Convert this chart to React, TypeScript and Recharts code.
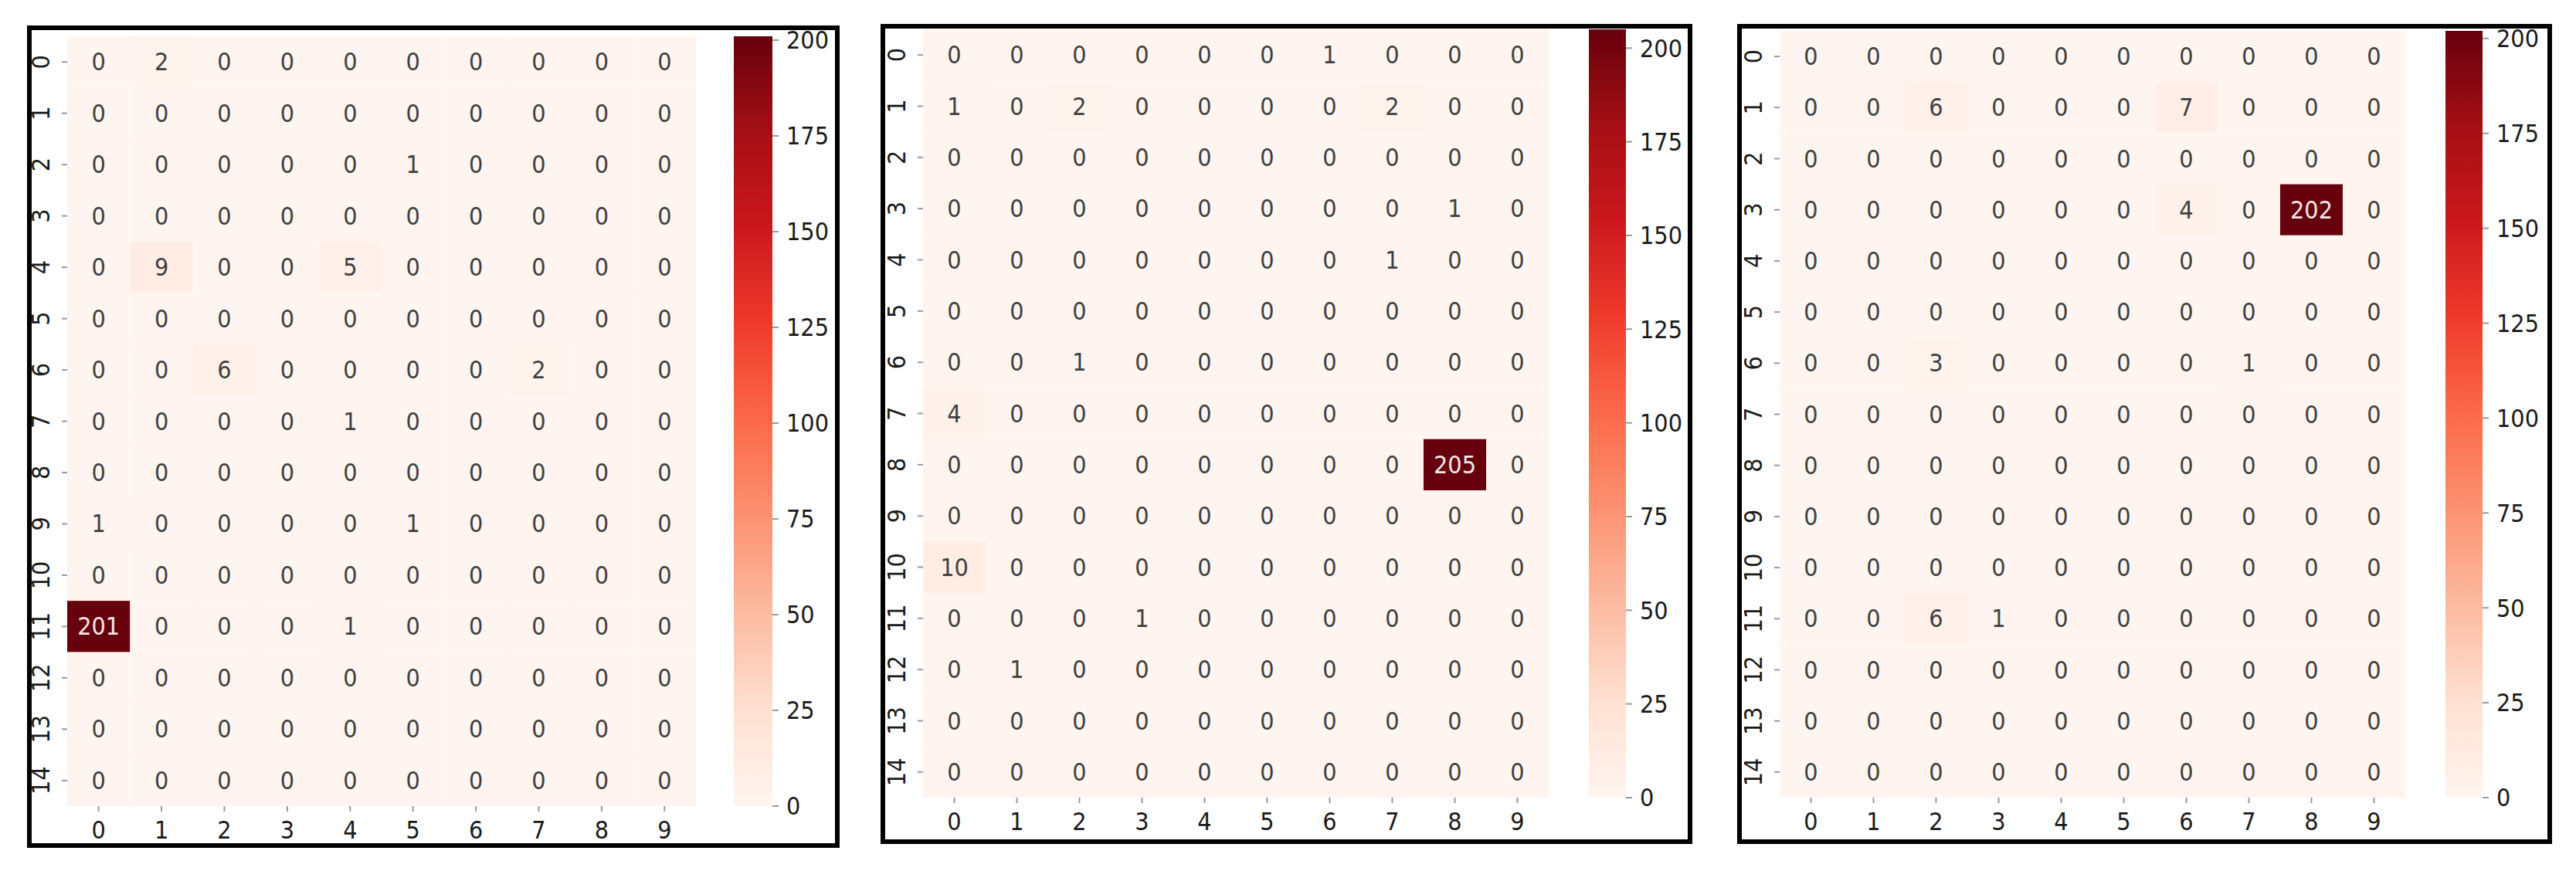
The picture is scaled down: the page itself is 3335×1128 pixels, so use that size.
import React from 'react';
import { ScatterChart, Scatter, XAxis, YAxis, BarChart, Bar } from 'recharts';

const FONT = '"DejaVu Sans Condensed", "DejaVu Sans", sans-serif';

// tick labels
const colLabels = [0, 1, 2, 3, 4, 5, 6, 7, 8, 9];
const rowLabels = [0, 1, 2, 3, 4, 5, 6, 7, 8, 9, 10, 11, 12, 13, 14];
const barTicks = [0, 25, 50, 75, 100, 125, 150, 175, 200];

// confusion counts, one row per row label
const countsLeft = [
  [0, 2, 0, 0, 0, 0, 0, 0, 0, 0],
  [0, 0, 0, 0, 0, 0, 0, 0, 0, 0],
  [0, 0, 0, 0, 0, 1, 0, 0, 0, 0],
  [0, 0, 0, 0, 0, 0, 0, 0, 0, 0],
  [0, 9, 0, 0, 5, 0, 0, 0, 0, 0],
  [0, 0, 0, 0, 0, 0, 0, 0, 0, 0],
  [0, 0, 6, 0, 0, 0, 0, 2, 0, 0],
  [0, 0, 0, 0, 1, 0, 0, 0, 0, 0],
  [0, 0, 0, 0, 0, 0, 0, 0, 0, 0],
  [1, 0, 0, 0, 0, 1, 0, 0, 0, 0],
  [0, 0, 0, 0, 0, 0, 0, 0, 0, 0],
  [201, 0, 0, 0, 1, 0, 0, 0, 0, 0],
  [0, 0, 0, 0, 0, 0, 0, 0, 0, 0],
  [0, 0, 0, 0, 0, 0, 0, 0, 0, 0],
  [0, 0, 0, 0, 0, 0, 0, 0, 0, 0],
];

const countsMiddle = [
  [0, 0, 0, 0, 0, 0, 1, 0, 0, 0],
  [1, 0, 2, 0, 0, 0, 0, 2, 0, 0],
  [0, 0, 0, 0, 0, 0, 0, 0, 0, 0],
  [0, 0, 0, 0, 0, 0, 0, 0, 1, 0],
  [0, 0, 0, 0, 0, 0, 0, 1, 0, 0],
  [0, 0, 0, 0, 0, 0, 0, 0, 0, 0],
  [0, 0, 1, 0, 0, 0, 0, 0, 0, 0],
  [4, 0, 0, 0, 0, 0, 0, 0, 0, 0],
  [0, 0, 0, 0, 0, 0, 0, 0, 205, 0],
  [0, 0, 0, 0, 0, 0, 0, 0, 0, 0],
  [10, 0, 0, 0, 0, 0, 0, 0, 0, 0],
  [0, 0, 0, 1, 0, 0, 0, 0, 0, 0],
  [0, 1, 0, 0, 0, 0, 0, 0, 0, 0],
  [0, 0, 0, 0, 0, 0, 0, 0, 0, 0],
  [0, 0, 0, 0, 0, 0, 0, 0, 0, 0],
];

const countsRight = [
  [0, 0, 0, 0, 0, 0, 0, 0, 0, 0],
  [0, 0, 6, 0, 0, 0, 7, 0, 0, 0],
  [0, 0, 0, 0, 0, 0, 0, 0, 0, 0],
  [0, 0, 0, 0, 0, 0, 4, 0, 202, 0],
  [0, 0, 0, 0, 0, 0, 0, 0, 0, 0],
  [0, 0, 0, 0, 0, 0, 0, 0, 0, 0],
  [0, 0, 3, 0, 0, 0, 0, 1, 0, 0],
  [0, 0, 0, 0, 0, 0, 0, 0, 0, 0],
  [0, 0, 0, 0, 0, 0, 0, 0, 0, 0],
  [0, 0, 0, 0, 0, 0, 0, 0, 0, 0],
  [0, 0, 0, 0, 0, 0, 0, 0, 0, 0],
  [0, 0, 6, 1, 0, 0, 0, 0, 0, 0],
  [0, 0, 0, 0, 0, 0, 0, 0, 0, 0],
  [0, 0, 0, 0, 0, 0, 0, 0, 0, 0],
  [0, 0, 0, 0, 0, 0, 0, 0, 0, 0],
];

// matplotlib "Reds"
const redsStops = ['#fff5f0', '#fee0d2', '#fcbba1', '#fc9272', '#fb6a4a', '#ef3b2c', '#cb181d', '#a50f15', '#67000d'];

const hexRgb = (h: string) => [1, 3, 5].map((i) => parseInt(h.slice(i, i + 2), 16));
const reds = (t: number) => {
  const p = Math.max(0, Math.min(1, t)) * (redsStops.length - 1);
  const i = Math.min(redsStops.length - 2, Math.floor(p));
  const f = p - i;
  const a = hexRgb(redsStops[i]);
  const b = hexRgb(redsStops[i + 1]);
  const c = a.map((v, k) => Math.round(v + (b[k] - v) * f));
  return `rgb(${c[0]},${c[1]},${c[2]})`;
};

const panels = [
  { id: 'l', counts: countsLeft, frame: { left: 35, top: 33, width: 1052, height: 1065 }, heat: { left: 87, top: 47, width: 814, height: 997 }, bar: { left: 950, width: 50 } },
  { id: 'm', counts: countsMiddle, frame: { left: 1140, top: 31, width: 1051, height: 1062 }, heat: { left: 1195, top: 38, width: 810, height: 995 }, bar: { left: 2057, width: 48 } },
  { id: 'r', counts: countsRight, frame: { left: 2249, top: 31, width: 1055, height: 1062 }, heat: { left: 2304, top: 40, width: 810, height: 993 }, bar: { left: 3166, width: 48 } },
];

const Y_AXIS_W = 60;
const X_AXIS_H = 60;
const PAD = 20;
const FS = 32;
const tickStroke = { stroke: '#9a9a9a', strokeWidth: 2 };

const RowTick = (props: any) => {
  const { x, y, payload } = props;
  return (
    <text x={x} y={y} transform={`rotate(-90 ${x} ${y})`} textAnchor="middle" dominantBaseline="central"
      fontSize={FS} fill="#1a1a1a" fontFamily={FONT}>
      {payload.value}
    </text>
  );
};

const Heatmap = ({ counts, vmax, box }: any) => {
  const cells = counts.flatMap((row: number[], r: number) => row.map((v, c) => ({ x: c, y: r, v })));
  const cw = box.width / colLabels.length;
  const ch = box.height / rowLabels.length;

  const drawCell = (p: any) => {
    const { cx, cy, payload } = p;
    const t = payload.v / vmax;
    return (
      <g>
        <rect x={cx - cw / 2} y={cy - ch / 2} width={cw} height={ch} fill={reds(t)} />
        <text x={cx} y={cy} textAnchor="middle" dominantBaseline="central" fontSize={FS}
          fontFamily={FONT} fill={t > 0.5 ? '#f6e6e6' : '#404040'}>
          {payload.v}
        </text>
      </g>
    );
  };

  return (
    <div style={{ position: 'absolute', left: box.left - Y_AXIS_W, top: box.top - PAD }}>
      <ScatterChart
        width={box.width + Y_AXIS_W + 10}
        height={box.height + PAD + X_AXIS_H}
        margin={{ top: PAD, right: 10, bottom: 0, left: 0 }}
      >
        <XAxis type="number" dataKey="x" domain={[-0.5, 9.5]} ticks={colLabels} interval={0}
          allowDataOverflow axisLine={false} tickLine={tickStroke} tickSize={7} tickMargin={12}
          height={X_AXIS_H} tick={{ fontSize: FS, fill: '#1a1a1a', fontFamily: FONT }} />
        <YAxis type="number" dataKey="y" domain={[-0.5, 14.5]} reversed ticks={rowLabels} interval={0}
          allowDataOverflow axisLine={false} tickLine={tickStroke} tickSize={7} tickMargin={27}
          width={Y_AXIS_W} tick={<RowTick />} />
        <Scatter data={cells} shape={drawCell} isAnimationActive={false} />
      </ScatterChart>
    </div>
  );
};

const ColorBar = ({ id, vmax, box, bar }: any) => {
  const axisW = 90;
  return (
    <div style={{ position: 'absolute', left: bar.left, top: box.top - PAD }}>
      <BarChart
        width={bar.width + axisW}
        height={box.height + PAD * 2}
        data={[{ name: 'scale', v: vmax }]}
        margin={{ top: PAD, right: 0, bottom: PAD, left: 0 }}
        barCategoryGap={0}
      >
        <defs>
          <linearGradient id={`reds-${id}`} x1="0" y1="1" x2="0" y2="0">
            {redsStops.map((c, i) => (
              <stop key={i} offset={i / (redsStops.length - 1)} stopColor={c} />
            ))}
          </linearGradient>
        </defs>
        <XAxis dataKey="name" hide height={0} />
        <YAxis orientation="right" type="number" domain={[0, vmax]} ticks={barTicks} interval={0}
          allowDataOverflow width={axisW} axisLine={false} tickLine={tickStroke} tickSize={8} tickMargin={10}
          tick={{ fontSize: FS, fill: '#1a1a1a', fontFamily: FONT, textAnchor: 'start' }} />
        <Bar dataKey="v" fill={`url(#reds-${id})`} isAnimationActive={false} />
      </BarChart>
    </div>
  );
};

export default function App() {
  return (
    <div style={{ position: 'absolute', left: 0, top: 0, width: 3335, height: 1128, background: '#fff', fontFamily: FONT, overflow: 'hidden' }}>
      {panels.map((p) => {
        const vmax = Math.max(...p.counts.flat());
        return (
          <React.Fragment key={p.id}>
            <Heatmap counts={p.counts} vmax={vmax} box={p.heat} />
            <ColorBar id={p.id} vmax={vmax} box={p.heat} bar={p.bar} />
            <div style={{
              position: 'absolute', left: p.frame.left, top: p.frame.top,
              width: p.frame.width, height: p.frame.height,
              border: '6px solid #000', boxSizing: 'border-box', pointerEvents: 'none',
            }} />
          </React.Fragment>
        );
      })}
    </div>
  );
}
